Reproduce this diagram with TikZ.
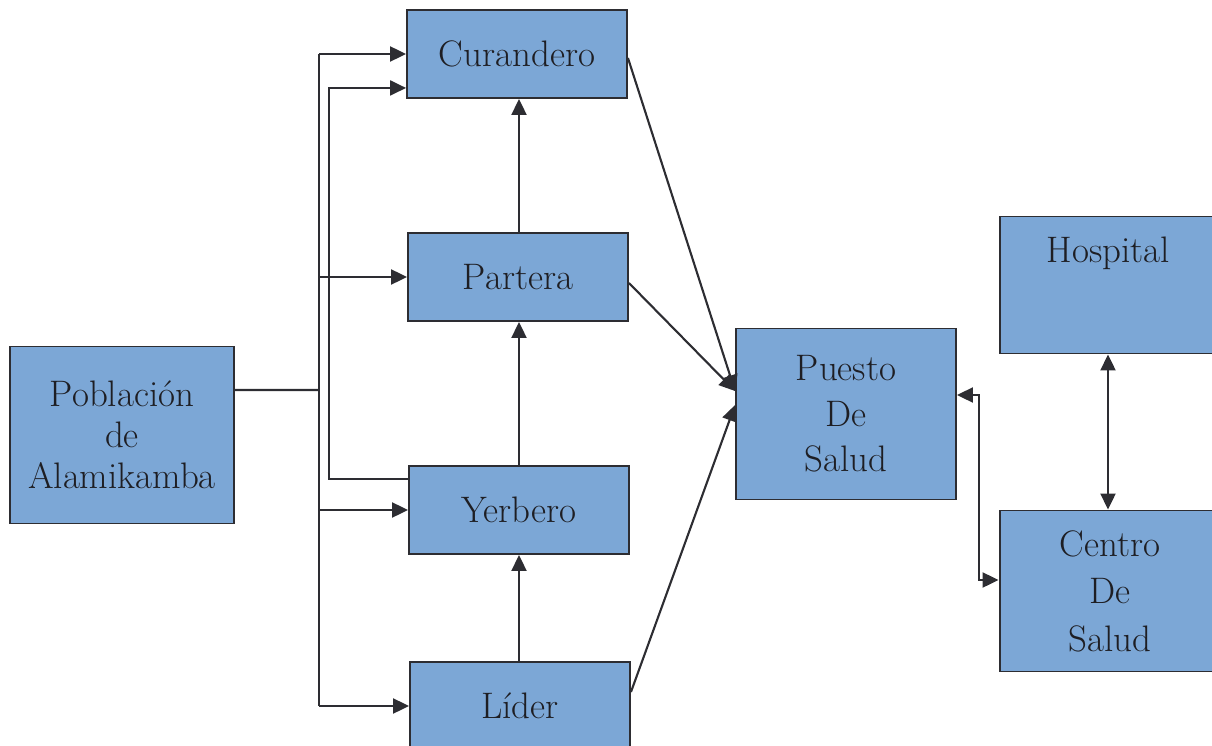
\documentclass[tikz,border=0pt]{standalone}
\usetikzlibrary{arrows.meta}
\definecolor{boxfill}{RGB}{124,167,214}
\definecolor{edge}{RGB}{45,45,50}
\definecolor{ink}{RGB}{30,30,35}
\begin{document}
\begin{tikzpicture}[x=0.02cm,y=-0.02cm,
  box/.style={draw=edge,line width=1.1pt,fill=boxfill,minimum width=4.4cm,minimum height=1.76cm,
    align=center,text=ink,font=\fontsize{21}{26}\selectfont,inner sep=0pt},
  txt/.style={text=ink,font=\fontsize{21}{26}\selectfont,inner sep=0pt},
  conn/.style={draw=edge,line width=1.2pt},
  arr/.style={conn,-{Triangle[length=0.32cm,width=0.3cm]}},
  arrb/.style={conn,{Triangle[length=0.32cm,width=0.3cm]}-{Triangle[length=0.32cm,width=0.3cm]}}]
\useasboundingbox (0,0) rectangle (1212,746);
\clip (0,0) rectangle (1212,746);
% nodes
\node[box,minimum width=4.48cm,minimum height=3.54cm,font=\fontsize{21}{23.5}\selectfont] (pob) at (122,435) {Población\\de\\Alamikamba};
\node[box] (cur) at (517,54) {Curandero};
\node[box] (par) at (518,277) {Partera};
\node[box] (yer) at (519,510) {Yerbero};
\node[box] (lid) at (520,706) {Líder};
\node[box,minimum height=3.42cm] (pue) at (846,414) {Puesto\\De\\Salud};
\node[box,minimum width=4.42cm,minimum height=2.74cm] (hos) at (1110,285) {};
\node[txt] (hostxt) at (1108,253) {Hospital};
\node[box,minimum width=4.42cm,minimum height=3.22cm,font=\fontsize{21}{27}\selectfont] (cen) at (1110,591) {Centro\\De\\Salud};
% trunk from Poblacion
\coordinate (jn) at (319,390);
\draw[conn] ([yshift=0.9cm]pob.east) -- (jn);
\draw[conn] (jn |- cur.west) -- (jn |- lid.west);
\draw[arr] (jn |- cur.west) -- (cur.west);
\draw[arr] (jn |- par.west) -- (par.west);
\draw[arr] (jn |- yer.west) -- (yer.west);
\draw[arr] (jn |- lid.west) -- (lid.west);
% Yerbero to Curandero
\draw[arr] ([yshift=-0.28cm]yer.north west) -- ++(-79,0) |- ([yshift=0.22cm]cur.south west);
% vertical chain
\coordinate (col) at (519,0);
\draw[arr] (lid.north -| col) -- (yer.south -| col);
\draw[arr] (yer.north -| col) -- (par.south -| col);
\draw[arr] (par.north -| col) -- (cur.south -| col);
% to Puesto de Salud
\draw[arr] ([yshift=-0.08cm]cur.east) -- ([yshift=0.46cm]pue.west);
\draw[arr] ([yshift=-0.12cm]par.east) -- ([yshift=0.46cm]pue.west);
\draw[arr] ([yshift=0.28cm]lid.east) -- ([yshift=0.18cm]pue.west);
% Puesto <-> Centro, Hospital <-> Centro
\draw[arrb] ([yshift=0.38cm]pue.east) -- ++(22,0) |- ([yshift=0.22cm]cen.west);
\draw[arrb] (hos.south -| hostxt) -- (cen.north -| hostxt);
\end{tikzpicture}
\end{document}
